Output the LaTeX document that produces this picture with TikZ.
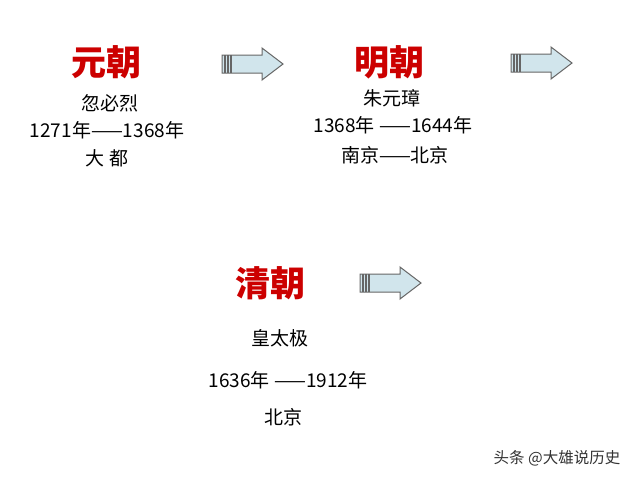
\documentclass[tikz,border=0pt]{standalone}
\usepackage{fontspec}
\setmainfont{Noto Sans CJK SC}
\begin{document}
\begin{tikzpicture}[x=1pt,y=-1pt,
  head/.style={text=red!80!black,font=\fontsize{35}{37}\selectfont\bfseries},
  body/.style={font=\fontsize{19}{21}\selectfont},
  wmark/.style={font=\fontsize{15.5}{17}\selectfont,text=black!80}]
\useasboundingbox (0,0) rectangle (640,480);
\fill[white] (0,0) rectangle (640,480);
\newcommand{\blockarrow}[2]{%
  \begin{scope}[shift={(#1,#2)}]
  \draw[fill=cyan!25!teal!20,draw=black!60,line width=1pt]
    (0,-9) -- (40,-9) -- (40,-16) -- (61,0) -- (40,16) -- (40,9) -- (0,9) -- cycle;
  \foreach \i in {2,5,8}{\fill[black!60] (\i,-9) rectangle (\i+1.8,9);}
  \end{scope}}
\node[head] (yuan) at (106,62) {元朝};
\node[body] (y1) at (110,103) {忽必烈};
\node[body] (y2) at (107,130) {1271年——1368年};
\node[body] (y3) at (107,158) {大\ 都};
\node[head] (ming) at (389,62) {明朝};
\node[body] (m1) at (392,98) {朱元璋};
\node[body] (m2) at (393,125) {1368年 ——1644年};
\node[body] (m3) at (395,155) {南京——北京};
\node[head] (qing) at (270,283) {清朝};
\node[body] (q1) at (280,338) {皇太极};
\node[body] (q2) at (288,380) {1636年 ——1912年};
\node[body] (q3) at (283,417) {北京};
\node[wmark] (wm) at (557,458) {头条 @大雄说历史};
\blockarrow{222}{64}
\blockarrow{511}{63}
\blockarrow{360}{283}
\end{tikzpicture}
\end{document}
